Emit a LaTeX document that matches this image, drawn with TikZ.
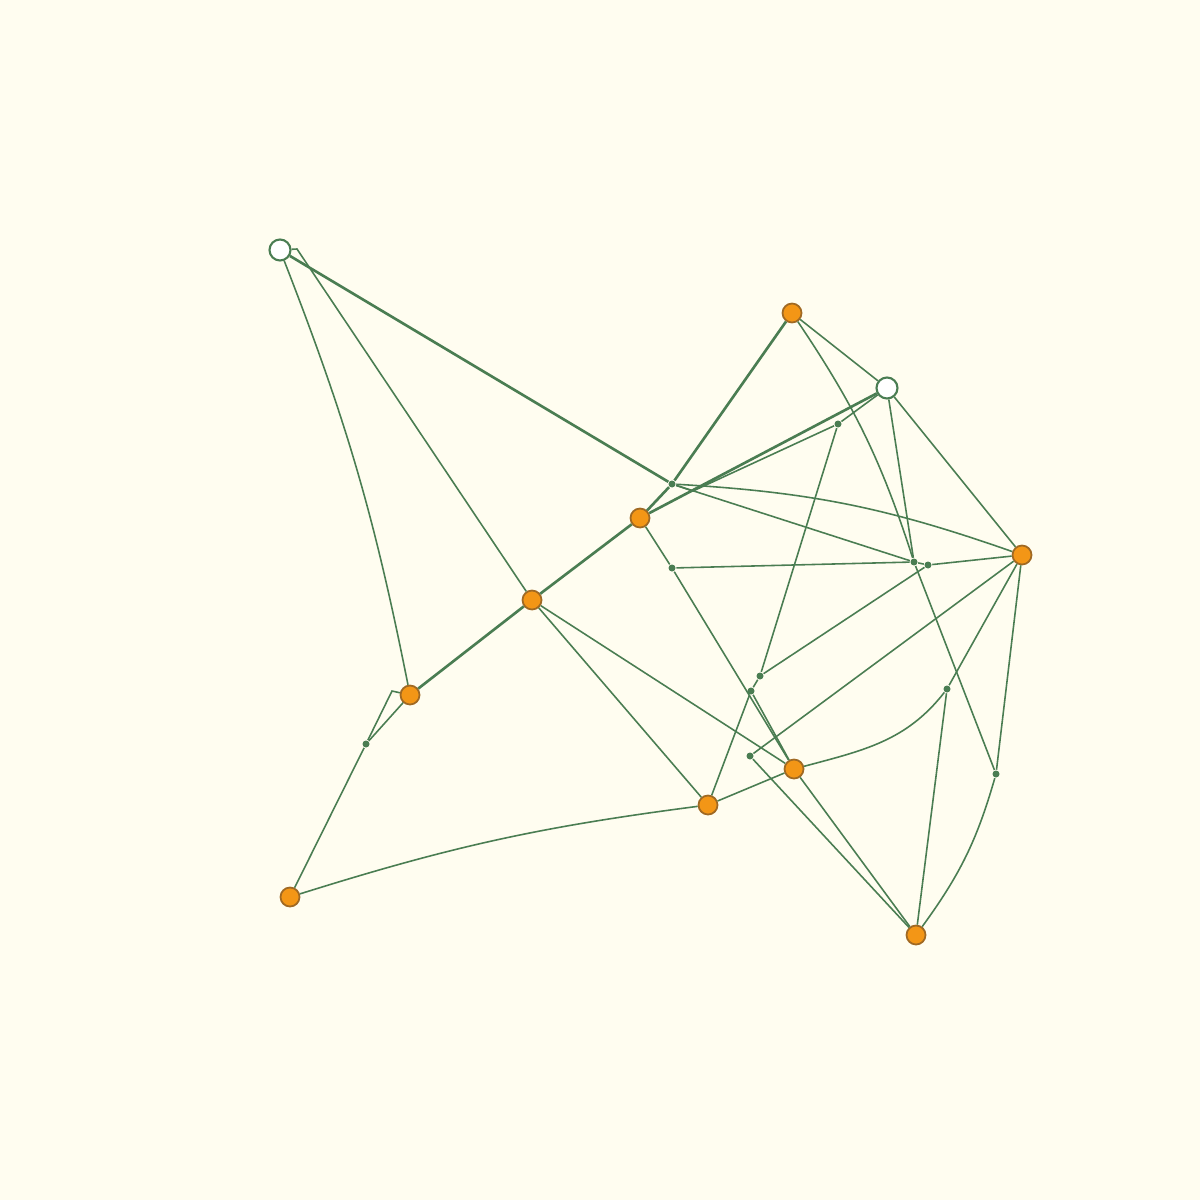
\documentclass[tikz,border=0pt]{standalone}
\usepackage{tikz}
\usetikzlibrary{arrows}

\definecolor{paper}{RGB}{255,253,240}
\definecolor{wire}{RGB}{74,125,82}
\definecolor{amber}{RGB}{243,150,22}
\definecolor{rim}{RGB}{160,105,35}

\begin{document}
\begin{tikzpicture}[x=0.1mm,y=0.1mm,wire,line width=0.45pt]
  \tikzstyle{hub}=[circle,fill=amber,draw=rim,line width=0.5pt,minimum size=1.9mm,inner sep=0pt]
  \tikzstyle{port}=[circle,fill=white,draw=wire,line width=0.6pt,minimum size=2.1mm,inner sep=0pt]
  \tikzstyle{joint}=[circle,fill=wire,inner sep=0pt,minimum size=0.7mm]
  \tikzstyle{heavy}=[line width=0.75pt]

  \fill[paper] (0,0) rectangle (1200,-1200);
  \useasboundingbox (0,0) rectangle (1200,-1200);

  % open ends
  \node[port] (P) at (280,-250) {};
  \node[port] (Q) at (887,-388) {};

  % stations
  \node[hub] (A) at (792,-313) {};
  \node[hub] (B) at (640,-518) {};
  \node[hub] (C) at (532,-600) {};
  \node[hub] (D) at (410,-695) {};
  \node[hub] (E) at (290,-897) {};
  \node[hub] (F) at (708,-805) {};
  \node[hub] (G) at (794,-769) {};
  \node[hub] (H) at (1022,-555) {};
  \node[hub] (I) at (916,-935) {};

  % joints
  \node[joint] (j1)  at (672,-484) {};
  \node[joint] (j2)  at (838,-424) {};
  \node[joint] (j3)  at (672,-568) {};
  \node[joint] (j4)  at (914,-562) {};
  \node[joint] (j5)  at (928,-565) {};
  \node[joint] (j6)  at (760,-676) {};
  \node[joint] (j7)  at (751,-691) {};
  \node[joint] (j8)  at (750,-756) {};
  \node[joint] (j9)  at (947,-689) {};
  \node[joint] (j10) at (996,-774) {};
  \node[joint] (j11) at (366,-744) {};

  \coordinate (k1) at (297,-249);
  \coordinate (k2) at (693,-491);
  \coordinate (k3) at (392,-691);

  \draw[heavy] (P) -- (j1);
  \draw[heavy] (A) -- (j1) -- (B) -- (Q);
  \draw[heavy] (D) -- (C) -- (B);

  \draw (P) edge [bend left=5] (D)
        (P) -- (k1) -- (C);
  \draw (j1) edge (j4)
        (j1) edge [bend left=8] (H);
  \draw (j1) -- (k2) -- (j2) -- (Q);
  \draw (A) edge (Q)
            edge [bend left=8] (j4);
  \draw (Q) edge (j4)
            edge (H);
  \draw (j2) -- (j6) -- (j7) -- (F);
  \draw (j5) -- (j6);
  \draw (j3) -- (j4) -- (j5) -- (H);
  \draw (B) -- (j3) -- (G);
  \draw (j7) -- (G);
  \draw (C) edge (F)
            edge (G);
  \draw (E) -- (j11) -- (k3) -- (D);
  \draw (j11) -- (D);
  \draw (E) to [bend left=5] (F);
  \draw (F) -- (G) to [out=15,in=232] (j9);
  \draw (j9) edge (H)
             edge (I);
  \draw (G) -- (I);
  \draw (H) -- (j8) -- (I);
  \draw (j4) -- (j10);
  \draw (H) -- (j10) to [bend left=10] (I);
\end{tikzpicture}
\end{document}
